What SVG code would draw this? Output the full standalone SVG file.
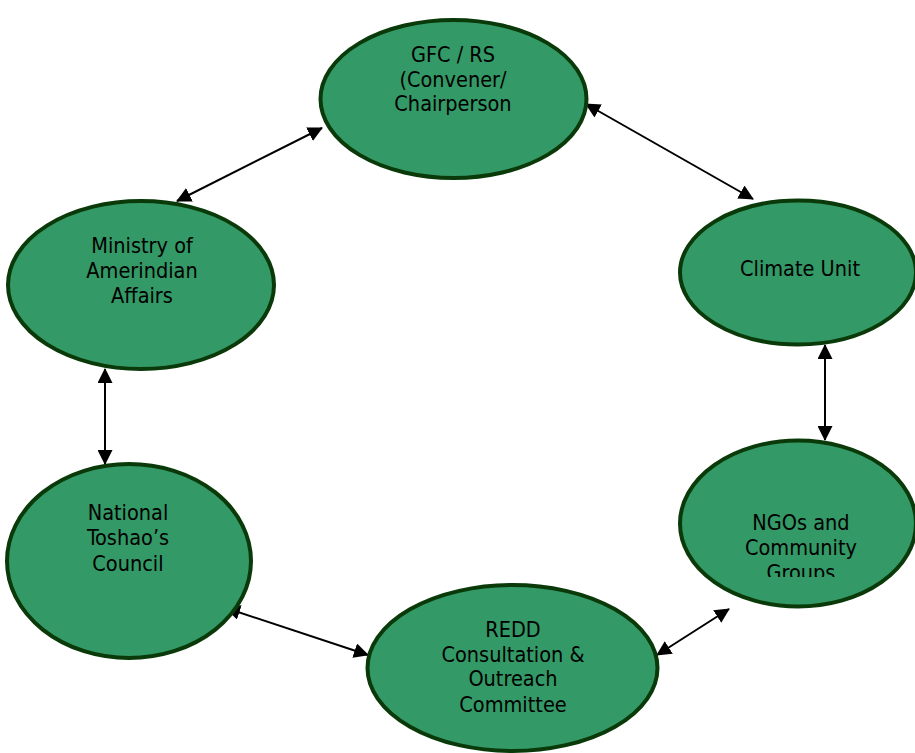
<svg xmlns="http://www.w3.org/2000/svg" width="915" height="753" viewBox="0 0 915 753">
<style>
.node ellipse{fill:#339966;stroke:#0a3a0a;stroke-width:4}
.node text{font-family:"DejaVu Sans Condensed","DejaVu Sans","Liberation Sans",sans-serif;font-stretch:condensed;font-size:21.5px;fill:#000;text-anchor:middle}
.conn line{stroke:#000;stroke-width:2;marker-start:url(#ah);marker-end:url(#ah)}
</style>
<defs>
<marker id="ah" viewBox="0 0 15 15" refX="14" refY="7.5" markerWidth="15" markerHeight="15" markerUnits="userSpaceOnUse" orient="auto-start-reverse">
<path d="M0,0 L15,7.5 L0,15 Z" fill="#000"/>
</marker>
<clipPath id="ngoclip"><rect x="680" y="500" width="240" height="77"/></clipPath>
</defs>
<rect width="915" height="753" fill="#fff"/>
<g class="conn">
<line x1="177" y1="201" x2="322" y2="128"/>
<line x1="586" y1="104" x2="753" y2="199"/>
<line x1="825" y1="345" x2="825" y2="440"/>
<line x1="729" y1="609" x2="657" y2="655"/>
<line x1="226" y1="608" x2="368" y2="655"/>
<line x1="105" y1="369" x2="105" y2="464"/>
</g>
<g id="gfc" class="node">
<ellipse cx="453.5" cy="99" rx="133" ry="79"/>
<text x="453" y="62">GFC / RS</text>
<text x="453" y="87">(Convener/</text>
<text x="453" y="111">Chairperson</text>
</g>
<g id="climate" class="node">
<ellipse cx="798" cy="272.5" rx="118" ry="72"/>
<text x="800" y="276">Climate Unit</text>
</g>
<g id="ngos" class="node">
<ellipse cx="798" cy="523.5" rx="118" ry="83"/>
<g clip-path="url(#ngoclip)">
<text x="801" y="530">NGOs and</text>
<text x="801" y="555">Community</text>
<text x="801" y="580">Groups</text>
</g>
</g>
<g id="redd" class="node">
<ellipse cx="512.5" cy="668" rx="145" ry="83"/>
<text x="513" y="637">REDD</text>
<text x="513" y="662">Consultation &amp;</text>
<text x="513" y="686">Outreach</text>
<text x="513" y="712">Committee</text>
</g>
<g id="toshao" class="node">
<ellipse cx="129" cy="561" rx="122" ry="97"/>
<text x="128" y="520">National</text>
<text x="128" y="545">Toshao’s</text>
<text x="128" y="571">Council</text>
</g>
<g id="ministry" class="node">
<ellipse cx="141" cy="285" rx="133" ry="84"/>
<text x="142" y="253">Ministry of</text>
<text x="142" y="278">Amerindian</text>
<text x="142" y="303">Affairs</text>
</g>
</svg>
